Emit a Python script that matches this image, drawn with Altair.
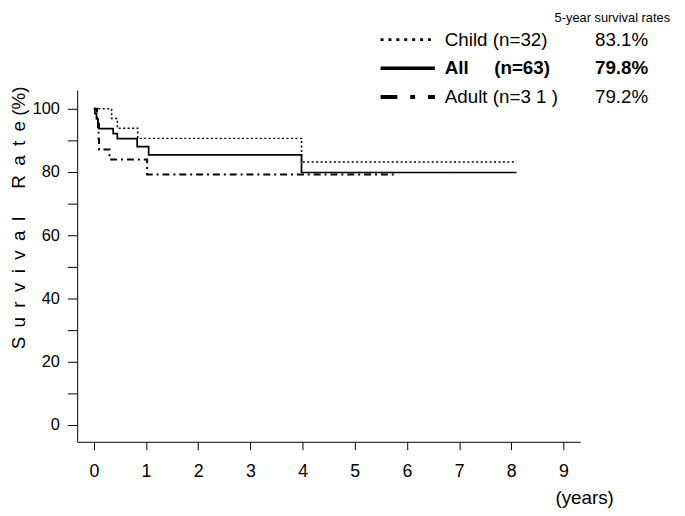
import altair as alt
import pandas as pd

# ---- data ----
series_names = ["Child", "All", "Adult"]

child_t = [0, 0.34, 0.45, 0.84, 3.98, 8.1]
child_s = [100, 96.9, 93.8, 90.6, 83.1, 83.1]

all_t = [0, 0.02, 0.05, 0.08, 0.10, 0.37, 0.45, 0.83, 1.05, 3.98, 8.1]
all_s = [100, 98.4, 96.8, 95.2, 93.7, 92.1, 90.5, 88.0, 85.4, 79.8, 79.8]

adult_t = [0, 0.06, 0.08, 0.09, 0.10, 0.30, 1.02, 5.78]
adult_s = [100, 96.8, 93.5, 90.3, 87.1, 83.9, 79.2, 79.2]

x_ticks = [0, 1, 2, 3, 4, 5, 6, 7, 8, 9]
y_ticks = [0, 10, 20, 30, 40, 50, 60, 70, 80, 90, 100]

legend_header = "5-year survival rates"
legend_labels = ["Child (n=32)", "All", "Adult (n=3 1 )"]
all_n_label = "(n=63)"
legend_rates = ["83.1%", "79.8%", "79.2%"]

EN = "\u2002"
y_title = EN.join(list("Survival")) + EN * 3 + EN.join(list("Rate")) + " (%)"

FONT = "Liberation Sans"

rows = []
for name, ts, ss in [("Child", child_t, child_s), ("All", all_t, all_s), ("Adult", adult_t, adult_s)]:
    for t, s in zip(ts, ss):
        rows.append({"series": name, "t": t, "s": s})
df = pd.DataFrame(rows)

x_scale = alt.Scale(domain=[-0.32, 9.32], nice=False, zero=False)
y_scale = alt.Scale(domain=[-5.4, 105.9], nice=False, zero=False)

lines = alt.Chart(df).mark_line(interpolate="step-after", color="black").encode(
    x=alt.X("t:Q", scale=x_scale,
            axis=alt.Axis(values=x_ticks, format="d", title="(years)", grid=False,
                          tickSize=8, labelPadding=22, labelBaseline="middle",
                          labelFontSize=18, labelFont=FONT, labelColor="black",
                          domainColor="black", tickColor="black", labelFlush=False,
                          titleX=513, titleY=56, titleAlign="center", titleBaseline="middle",
                          titleFontSize=19, titleFont=FONT, titleFontWeight="normal",
                          titleColor="black")),
    y=alt.Y("s:Q", scale=y_scale,
            axis=alt.Axis(values=y_ticks, grid=False, tickSize=10, labelPadding=8,
                          labelExpr="datum.value % 20 == 0 ? datum.label : ''",
                          labelFontSize=16.5, labelFont=FONT, labelColor="black",
                          domainColor="black", tickColor="black", labelFlush=False,
                          title=y_title, titleX=-59, titleY=129, titleAngle=270,
                          titleAlign="center", titleBaseline="middle",
                          titleFontSize=19, titleFont=FONT, titleFontWeight="normal",
                          titleColor="black")),
    strokeDash=alt.StrokeDash("series:N",
                              scale=alt.Scale(domain=series_names,
                                              range=[[2, 2.5], [1, 0], [7, 4, 2, 4]]),
                              legend=None),
    strokeWidth=alt.StrokeWidth("series:N",
                                scale=alt.Scale(domain=series_names, range=[1.5, 2, 1.6]),
                                legend=None),
)

layers = [lines]

header = alt.Chart(pd.DataFrame({"txt": [legend_header]})).mark_text(
    align="right", baseline="middle", fontSize=13, font=FONT, color="black"
).encode(x=alt.value(600), y=alt.value(-73), text="txt:N")
layers.append(header)

row_y = [-51, -22, 7]
sample_dash = [[3, 5], [1, 0], [17, 13, 5, 13]]
sample_width = [3, 3.5, 4]
for i in range(3):
    d = pd.DataFrame({"label": [legend_labels[i]], "rate": [legend_rates[i]]})
    weight = "bold" if i == 1 else "normal"
    sample = alt.Chart(d).mark_rule(
        color="black", strokeDash=sample_dash[i], strokeWidth=sample_width[i]
    ).encode(x=alt.value(307), x2=alt.value(362), y=alt.value(row_y[i]))
    lab = alt.Chart(d).mark_text(
        align="left", baseline="middle", fontSize=19, font=FONT, color="black", fontWeight=weight
    ).encode(x=alt.value(372), y=alt.value(row_y[i]), text="label:N")
    rate = alt.Chart(d).mark_text(
        align="left", baseline="middle", fontSize=19, font=FONT, color="black", fontWeight=weight
    ).encode(x=alt.value(524), y=alt.value(row_y[i]), text="rate:N")
    layers += [sample, lab, rate]

n_all = alt.Chart(pd.DataFrame({"txt": [all_n_label]})).mark_text(
    align="left", baseline="middle", fontSize=19, font=FONT, color="black", fontWeight="bold"
).encode(x=alt.value(422), y=alt.value(row_y[1]), text="txt:N")
layers.append(n_all)

chart = alt.layer(*layers).properties(
    width=509, height=356,
    autosize=alt.AutoSizeParams(type="none"),
    padding={"left": 70, "top": 80, "right": 98, "bottom": 64},
    background="white",
).configure_view(strokeWidth=0)

chart.save("out.html", embed_options={"renderer": "svg", "actions": False})
